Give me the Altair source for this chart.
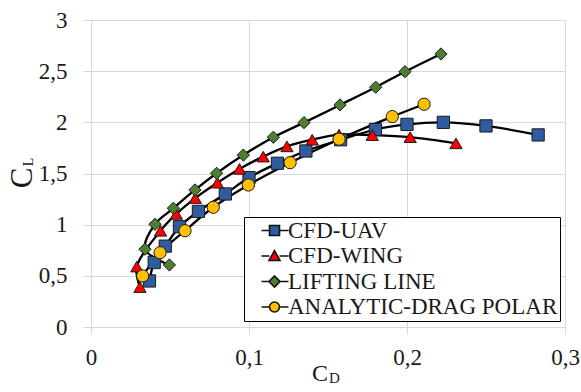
import altair as alt
import pandas as pd

# ---- data ----
series_names = ["CFD-UAV", "CFD-WING", "LIFTING LINE", "ANALYTIC-DRAG POLAR"]
series_colors = ["#2E5C9E", "#FF0000", "#4E7F2E", "#FFC000"]

uav_cd = [0.037, 0.040, 0.047, 0.056, 0.068, 0.085, 0.100, 0.118, 0.136, 0.158, 0.180, 0.200, 0.223, 0.250, 0.283]
uav_cl = [0.45, 0.63, 0.79, 0.98, 1.13, 1.30, 1.46, 1.60, 1.72, 1.83, 1.93, 1.98, 2.00, 1.965, 1.877]

wing_cd = [0.031, 0.029, 0.044, 0.054, 0.066, 0.080, 0.094, 0.109, 0.124, 0.140, 0.157, 0.178, 0.202, 0.231]
wing_cl = [0.39, 0.59, 0.94, 1.105, 1.26, 1.41, 1.545, 1.665, 1.765, 1.83, 1.88, 1.875, 1.855, 1.795]

ll_cd = [0.0496, 0.0342, 0.0405, 0.0521, 0.0658, 0.0795, 0.0964, 0.1154, 0.1348, 0.1576, 0.1802, 0.1987, 0.2215]
ll_cl = [0.606, 0.760, 1.004, 1.160, 1.339, 1.502, 1.68, 1.854, 1.997, 2.17, 2.343, 2.495, 2.668]

an_cd = [0.0327, 0.0437, 0.0595, 0.0774, 0.0996, 0.126, 0.157, 0.1907, 0.2108]
an_cl = [0.499, 0.726, 0.941, 1.17, 1.388, 1.606, 1.835, 2.056, 2.177]

x_ticks = [0, 0.1, 0.2, 0.3]
y_ticks = [0, 0.5, 1, 1.5, 2, 2.5, 3]

rows = []
for name, cds, cls in zip(series_names, [uav_cd, wing_cd, ll_cd, an_cd], [uav_cl, wing_cl, ll_cl, an_cl]):
    for i, (a, b) in enumerate(zip(cds, cls)):
        rows.append({"series": name, "cd": a, "cl": b, "idx": i})
df = pd.DataFrame(rows)

FONT = "Liberation Serif"
TXT = "#1a1a1a"
GRID = "#d9d9d9"
comma = "replace(format(datum.value, ''), '.', ',')"

xs = alt.Scale(domain=[0, 0.3], nice=False)
ys = alt.Scale(domain=[0, 3], nice=False)
xax = alt.Axis(values=x_ticks, labelExpr=comma, title=None, grid=True, gridColor=GRID,
               domain=False, tickColor=GRID, tickSize=7, labelPadding=12,
               labelFlush=False, labelOverlap=False,
               labelFont=FONT, labelFontSize=23, labelColor=TXT)
yax = alt.Axis(values=y_ticks, labelExpr=comma, title=None, grid=True, gridColor=GRID,
               domain=False, tickColor=GRID, tickSize=8, labelPadding=16,
               labelFlush=False, labelOverlap=False,
               labelFont=FONT, labelFontSize=23, labelColor=TXT)

base = alt.Chart(df)

lines = base.mark_line(color="#000000", strokeWidth=2.3, interpolate="catmull-rom").encode(
    x=alt.X("cd:Q", scale=xs, axis=xax),
    y=alt.Y("cl:Q", scale=ys, axis=yax),
    detail="series:N",
    order="idx:Q",
)

marker_shapes = ["square", "triangle-up", "diamond", "circle"]
points = base.mark_point(filled=True, opacity=1, stroke="#1c1c1c", strokeWidth=1).encode(
    x=alt.X("cd:Q", scale=xs),
    y=alt.Y("cl:Q", scale=ys),
    color=alt.Color("series:N", scale=alt.Scale(domain=series_names, range=series_colors), legend=None),
    shape=alt.Shape("series:N", scale=alt.Scale(domain=series_names, range=marker_shapes), legend=None),
    size=alt.Size("series:N", scale=alt.Scale(domain=series_names, range=[150, 150, 180, 150]), legend=None),
)

# legend symbols: a line stub with the marker in the middle (Excel style)
stub = "M0.8,0H2.4M4.4,0H6.2"
legend_shapes = [
    stub + "M2.4,-1H4.4V1H2.4Z",
    stub + "M3.4,-1.05L4.5,0.9L2.3,0.9Z",
    stub + "M2.3,0L3.4,-1.1L4.5,0L3.4,1.1Z",
    stub + "M2.4,0A1,1 0 1,1 4.4,0A1,1 0 1,1 2.4,0Z",
]
leg_kw = dict(title=None, orient="none", legendX=153, legendY=197,
              padding=2, rowPadding=1.5, labelFont=FONT, labelFontSize=23,
              labelColor=TXT, labelOffset=19, symbolSize=100,
              strokeColor="#000000", fillColor="#ffffff",
              symbolStrokeColor="#111111", symbolStrokeWidth=1.6, labelLimit=400)
legend_layer = base.transform_filter("datum.cd < 0").mark_point(
    filled=True, opacity=1, stroke="#111111", strokeWidth=1.6, size=100
).encode(
    x=alt.X("cd:Q", scale=xs),
    y=alt.Y("cl:Q", scale=ys),
    color=alt.Color("series:N", scale=alt.Scale(domain=series_names, range=series_colors),
                    legend=alt.Legend(**leg_kw)),
    shape=alt.Shape("series:N", scale=alt.Scale(domain=series_names, range=legend_shapes),
                    legend=alt.Legend(**leg_kw)),
)

# axis titles with subscripts
tx_c = alt.Chart(pd.DataFrame({"t": ["C"]})).mark_text(
    font=FONT, fontSize=24, color=TXT, align="right", baseline="alphabetic"
).encode(x=alt.value(237), y=alt.value(361), text="t:N")
tx_d = alt.Chart(pd.DataFrame({"t": ["D"]})).mark_text(
    font=FONT, fontSize=15, color=TXT, align="left", baseline="alphabetic"
).encode(x=alt.value(238), y=alt.value(363), text="t:N")
ty_c = alt.Chart(pd.DataFrame({"t": ["C"]})).mark_text(
    font=FONT, fontSize=31, color=TXT, align="center", baseline="alphabetic", angle=270
).encode(x=alt.value(-59), y=alt.value(158), text="t:N")
ty_l = alt.Chart(pd.DataFrame({"t": ["L"]})).mark_text(
    font=FONT, fontSize=14, color=TXT, align="center", baseline="alphabetic", angle=270
).encode(x=alt.value(-58), y=alt.value(142), text="t:N")

chart = alt.layer(lines, points, legend_layer, tx_c, tx_d, ty_c, ty_l).resolve_scale(
    color="independent", shape="independent", size="independent"
).properties(
    width=474, height=307,
    autosize=alt.AutoSizeParams(type="none"),
    padding={"left": 91, "top": 20, "right": 16, "bottom": 65},
).configure_view(stroke=None).configure(background="#ffffff")

chart.save("out.html", embed_options={"renderer": "svg", "actions": False})
